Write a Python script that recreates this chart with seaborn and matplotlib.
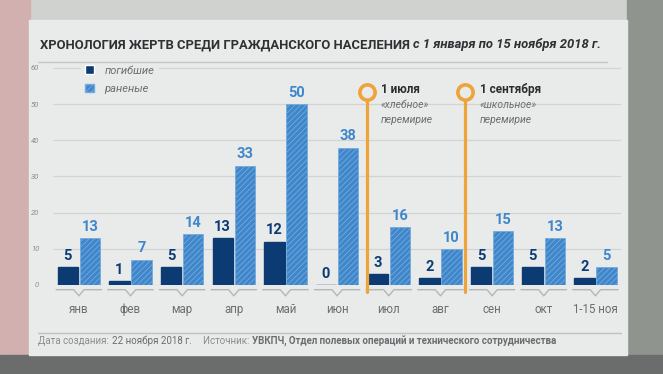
import numpy as np
import pandas as pd
import matplotlib.pyplot as plt
import matplotlib.patches as mpatches
import seaborn as sns

# data
months = ['янв', 'фев', 'мар', 'апр', 'май', 'июн', 'июл', 'авг', 'сен', 'окт', '1-15 ноя']
killed = [5, 1, 5, 13, 12, 0, 3, 2, 5, 5, 2]
wounded = [13, 7, 14, 33, 50, 38, 16, 10, 15, 13, 5]
series = ['погибшие', 'раненые']
yticks = [0, 10, 20, 30, 40, 50, 60]

dark = '#0c3b73'
light = '#3f86ca'
orange = '#eea33b'
card = '#e9ebea'
gray = '#6b6e70'

df = pd.DataFrame({
    'month': months * 2,
    'value': killed + wounded,
    'kind': [series[0]] * len(months) + [series[1]] * len(months),
})

sns.set_theme(style='white')
plt.rcParams['font.family'] = ['Roboto', 'DejaVu Sans']
plt.rcParams['hatch.linewidth'] = 0.6

fig = plt.figure(figsize=(6.63, 3.74), dpi=100, facecolor='#cfd2cf')
# background around the card
fig.patches.append(mpatches.Rectangle((0.0, 0.0), 0.045, 1, transform=fig.transFigure,
                                      color='#d2b0b0', zorder=-3))
fig.patches.append(mpatches.Rectangle((0.945, 0.0), 0.06, 1, transform=fig.transFigure,
                                      color='#8f958e', zorder=-3))
fig.patches.append(mpatches.Rectangle((0.0, 0.0), 1, 0.05, transform=fig.transFigure,
                                      color='#6a6d6b', zorder=-3))
fig.patches.append(mpatches.Rectangle((0.043, 0.05), 0.902, 0.897, transform=fig.transFigure,
                                      color=card, zorder=-2))

ax = fig.add_axes([0.080, 0.238, 0.857, 0.590])
ax.set_facecolor(card)

sns.barplot(data=df, x='month', y='value', hue='kind', palette=[dark, light],
            width=0.86, gap=0.08, saturation=1, ax=ax, zorder=3)

for bar in ax.containers[1]:
    bar.set_hatch('//////')
    bar.set_edgecolor('#74abdd')
    bar.set_linewidth(0.6)
for bar in ax.containers[0]:
    bar.set_edgecolor(dark)

ax.bar_label(ax.containers[0], padding=3, color=dark, fontsize=10.5, fontweight='bold')
ax.bar_label(ax.containers[1], padding=3, color=light, fontsize=10.5, fontweight='bold')

ax.set_ylim(0, 61)
ax.set_xlim(-0.5, 10.5)
ax.set_yticks(yticks)
ax.set_yticklabels([str(t) for t in yticks], fontsize=5.5, style='italic', color='#8a8d8f')
ax.yaxis.grid(True, color='#d2d4d3', linewidth=0.9)
ax.set_axisbelow(True)
ax.tick_params(axis='x', length=0, pad=13, labelsize=8.3, labelcolor=gray)
ax.tick_params(axis='y', length=0, pad=10)
ax.set_xlabel('')
ax.set_ylabel('')
sns.despine(ax=ax, left=True, bottom=True)

# v-shaped underline under each group
for i in range(len(months)):
    ax.plot([i - 0.44, i - 0.1, i, i + 0.1, i + 0.44], [-1.3, -1.3, -3.0, -1.3, -1.3],
            color='#b4b7b8', lw=1.0, clip_on=False, zorder=2)

# truce markers
truces = [(5.57, '1 июля', '«хлебное»'), (7.48, '1 сентября', '«школьное»')]
for xl, date, name in truces:
    ax.plot([xl, xl], [-2, 53.4], color=orange, lw=2.3, clip_on=False, zorder=4)
    ax.plot([xl], [53.4], marker='o', ms=11, mfc=card, mec=orange, mew=2.6,
            clip_on=False, zorder=5)
    ax.text(xl + 0.28, 54.0, date, fontsize=8.5, fontweight='bold', color='#2a2c2e',
            va='center', ha='left')
    ax.text(xl + 0.28, 49.8, name, fontsize=7.5, style='italic', color=gray,
            va='center', ha='left')
    ax.text(xl + 0.28, 45.6, 'перемирие', fontsize=7.5, style='italic', color=gray,
            va='center', ha='left')

leg = ax.legend(loc='upper left', bbox_to_anchor=(0.04, 1.035), frameon=True,
                facecolor=card, edgecolor=card, framealpha=1, fontsize=8,
                handlelength=0.8, handleheight=0.8, handletextpad=1.0,
                labelspacing=0.75, borderpad=0.3)
for t in leg.get_texts():
    t.set_style('italic')
    t.set_color(gray)
leg.legend_handles[1].set_hatch('//////')
leg.legend_handles[1].set_edgecolor('#74abdd')


def pieces(x, y, parts):
    fig.canvas.draw()
    r = fig.canvas.get_renderer()
    for s, kw in parts:
        t = fig.text(x, y, s, va='center', ha='left', **kw)
        bb = t.get_window_extent(r)
        x += bb.width / fig.bbox.width


# title
pieces(0.060, 0.880, [
    ('ХРОНОЛОГИЯ ЖЕРТВ СРЕДИ ГРАЖДАНСКОГО НАСЕЛЕНИЯ ', dict(fontsize=9.4, fontweight='bold', color='#2e3033')),
    ('с 1 января по 15 ноября 2018 г.', dict(fontsize=9.4, style='italic', fontweight='bold', color='#2e3033')),
])
fig.add_artist(plt.Line2D([0.057, 0.915], [0.835, 0.835], color='#c3c6c5', lw=1.0,
                          transform=fig.transFigure))

# footer
fig.add_artist(plt.Line2D([0.057, 0.937], [0.110, 0.110], color='#bfc2c1', lw=1.0,
                          transform=fig.transFigure))
pieces(0.058, 0.088, [
    ('Дата создания: ', dict(fontsize=7.0, color='#8a8d8f')),
    ('22 ноября 2018 г.     ', dict(fontsize=7.0, color='#6a6d70')),
    ('Источник: ', dict(fontsize=7.0, color='#8a8d8f')),
    ('УВКПЧ, Отдел полевых операций и технического сотрудничества',
     dict(fontsize=7.0, fontweight='bold', color='#6a6d70')),
])

fig.savefig('out.png', dpi=100, facecolor=fig.get_facecolor())
